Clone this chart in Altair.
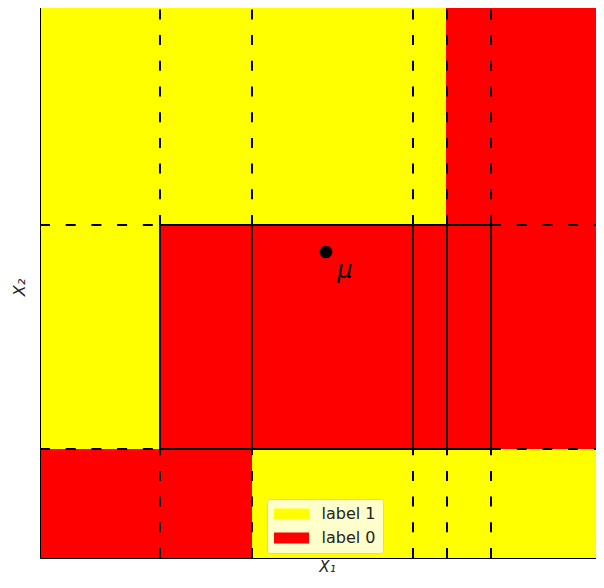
import altair as alt
import pandas as pd

# ---- values (plot units: px offsets, x from left edge, y upward from page y=564) ----
x_min, x_max = 0, 556
y_min, y_max = 6, 557

# coloured regions
rect_x = [0, 406, 0, 120, 0, 212]
rect_x2 = [406, x_max, 120, x_max, 212, x_max]
rect_y = [339, 339, 115, 115, y_min, y_min]
rect_y2 = [y_max, y_max, 339, 339, 115, 115]
rect_label = ["label 1", "label 0", "label 1", "label 0", "label 0", "label 1"]

# split positions
split_x = [120, 212, 373, 407, 451]
split_y = [115, 339]
box_x = [120, 451]   # solid box left/right
box_y = [115, 339]   # solid box bottom/top

# mean point
mu_x = [286]
mu_y = [312]
mu_text = ["μ"]

legend_labels = ["label 1", "label 0"]
legend_colors = ["#ffff00", "#ff0000"]

# ---- tables ----
rects = pd.DataFrame({"x": rect_x, "x2": rect_x2, "y": rect_y, "y2": rect_y2, "label": rect_label})

dashed_rows, solid_rows = [], []
for xv in split_x:
    dashed_rows.append((xv, xv, box_y[1], y_max))
    dashed_rows.append((xv, xv, y_min, box_y[0]))
    solid_rows.append((xv, xv, box_y[0], box_y[1]))
for yv in split_y:
    dashed_rows.append((x_min, box_x[0], yv, yv))
    dashed_rows.append((box_x[1], x_max, yv, yv))
    solid_rows.append((box_x[0], box_x[1], yv, yv))
dashed = pd.DataFrame(dashed_rows, columns=["x", "x2", "y", "y2"])
solid = pd.DataFrame(solid_rows, columns=["x", "x2", "y", "y2"])
point = pd.DataFrame({"x": mu_x, "y": mu_y, "t": mu_text})
top = pd.DataFrame({"y": [y_max]})

xs = alt.Scale(domain=[x_min, x_max], nice=False, zero=False)
ys = alt.Scale(domain=[y_min, y_max], nice=False, zero=False)
xaxis = alt.Axis(title="X₁", labels=False, ticks=False, grid=False, domain=True,
                 domainColor="black", domainWidth=1, zindex=1,
                 titleFont="DejaVu Sans", titleFontSize=15, titleFontStyle="italic",
                 titleFontWeight="normal", titleColor="#222222", titlePadding=1,
                 titleX=287, titleAlign="center")
yaxis = alt.Axis(title="X₂", labels=False, ticks=False, grid=False, domain=True,
                 domainColor="black", domainWidth=1, zindex=1,
                 titleFont="DejaVu Sans", titleFontSize=16, titleFontStyle="italic",
                 titleFontWeight="normal", titleColor="#222222", titlePadding=13,
                 titleY=280)


def X(f):
    return alt.X(f, type="quantitative", scale=xs, axis=xaxis)


def Y(f):
    return alt.Y(f, type="quantitative", scale=ys, axis=yaxis)


regions = alt.Chart(rects).mark_rect(strokeWidth=0).encode(
    x=X("x"), x2="x2", y=Y("y"), y2="y2",
    color=alt.Color("label:N",
                    scale=alt.Scale(domain=legend_labels, range=legend_colors),
                    legend=alt.Legend(
                        title=None, orient="none", legendX=227, legendY=492,
                        fillColor="#ffffcc", strokeColor="#d6d6a8", cornerRadius=3,
                        padding=7, rowPadding=8,
                        symbolType="M-2.1875,-0.6875H2.1875V0.6875H-2.1875Z", symbolSize=256,
                        symbolOffset=9.5,
                        symbolStrokeWidth=0, symbolOpacity=1,
                        labelFont="DejaVu Sans", labelFontSize=16, labelColor="#222222",
                        labelOffset=22)),
)

dash_layer = alt.Chart(dashed).mark_rule(color="black", strokeWidth=2, strokeDash=[10, 15.7]).encode(
    x=X("x"), x2="x2", y=Y("y"), y2="y2")
solid_layer = alt.Chart(solid).mark_rule(color="black", strokeWidth=1.8).encode(
    x=X("x"), x2="x2", y=Y("y"), y2="y2")
top_layer = alt.Chart(top).mark_rule(color="black", strokeWidth=1).encode(y=Y("y"))

dot = alt.Chart(point).mark_circle(color="black", size=160, opacity=1).encode(x=X("x"), y=Y("y"))
mu = alt.Chart(point).mark_text(dx=19, dy=19, fontSize=24, fontStyle="italic",
                                font="DejaVu Sans", color="black").encode(
    x=X("x"), y=Y("y"), text="t:N")

chart = alt.layer(regions, dash_layer, solid_layer, top_layer, dot, mu).properties(
    width=556, height=551,
    autosize=alt.AutoSizeParams(type="none"),
    padding={"left": 32, "top": -1, "right": 0, "bottom": 18},
).configure_view(stroke=None)

chart.save("out.html", embed_options={"renderer": "svg", "actions": False})
